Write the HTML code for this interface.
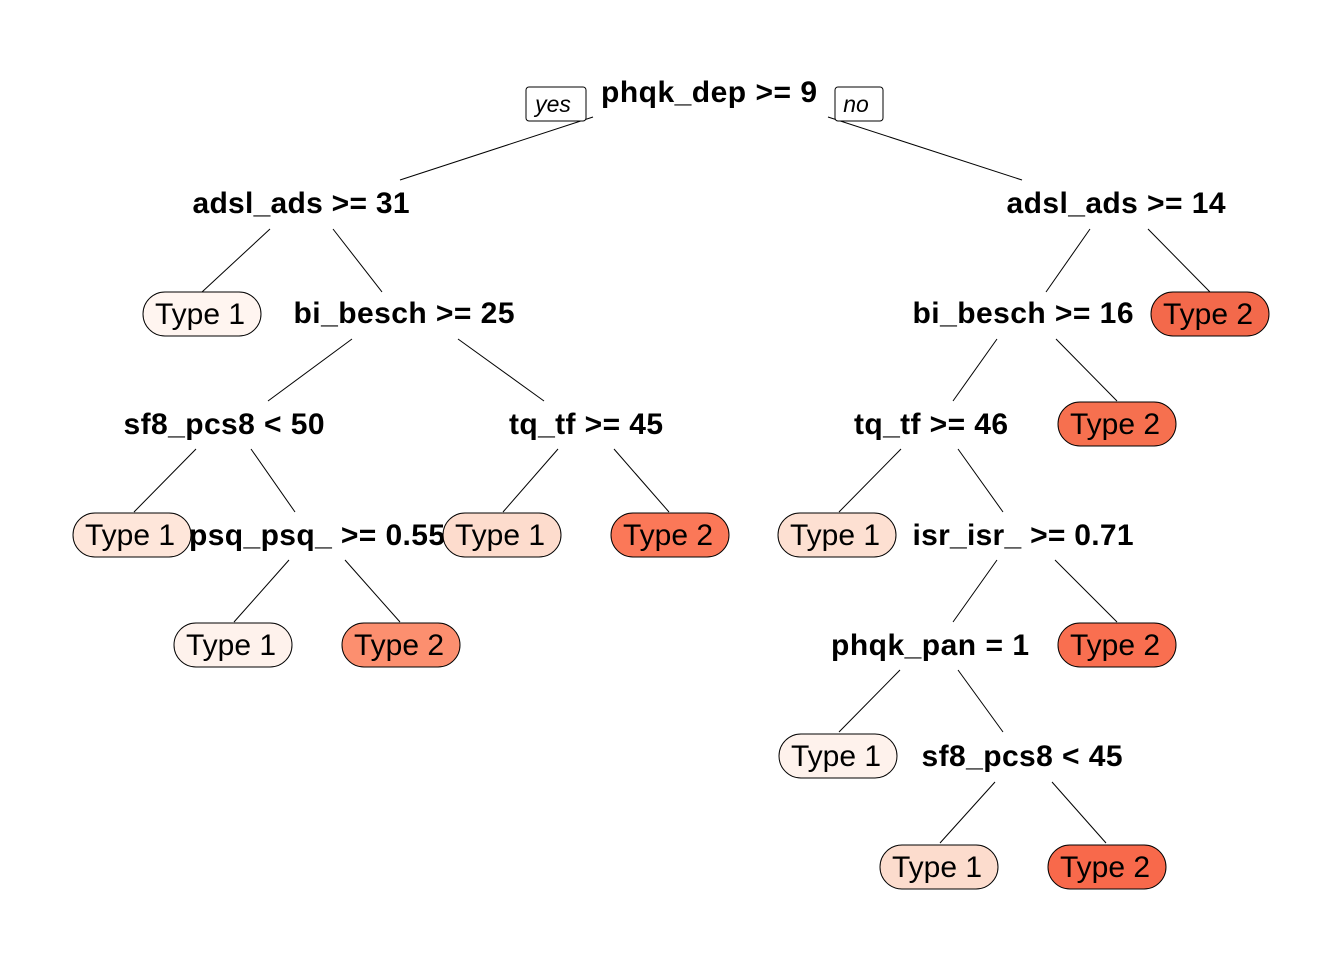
<!DOCTYPE html>
<html><head><style>body{margin:0;background:#fff}svg{display:block}</style></head><body>
<svg width="1344" height="960" xmlns="http://www.w3.org/2000/svg" font-family="Liberation Sans, Arial, sans-serif" font-size="30">
<g stroke="#000" stroke-width="1" fill="none">
<line x1="593" y1="117" x2="400" y2="180"/><line x1="828" y1="117" x2="1022" y2="180"/>
<line x1="270" y1="229" x2="202" y2="292"/><line x1="333" y1="229" x2="382" y2="292"/>
<line x1="352" y1="339" x2="268" y2="401"/><line x1="458" y1="339" x2="544" y2="401"/>
<line x1="196" y1="449" x2="134" y2="512"/><line x1="251" y1="449" x2="295" y2="512"/>
<line x1="558" y1="449" x2="503" y2="512"/><line x1="614" y1="449" x2="669" y2="512"/>
<line x1="289" y1="560" x2="234" y2="622"/><line x1="345" y1="560" x2="400" y2="622"/>
<line x1="1090" y1="229" x2="1046" y2="292"/><line x1="1148" y1="229" x2="1210" y2="292"/>
<line x1="997" y1="339" x2="953" y2="401"/><line x1="1056" y1="339" x2="1117" y2="401"/>
<line x1="901" y1="449" x2="839" y2="512"/><line x1="958" y1="449" x2="1003" y2="512"/>
<line x1="997" y1="560" x2="953" y2="622"/><line x1="1055" y1="560" x2="1117" y2="622"/>
<line x1="900" y1="670" x2="839" y2="732"/><line x1="958" y1="670" x2="1003" y2="732"/>
<line x1="995" y1="782" x2="940" y2="843"/><line x1="1052" y1="782" x2="1106" y2="843"/>
<rect x="526" y="87" width="60" height="34" rx="3" fill="#fff"/>
<rect x="835" y="87" width="48" height="34" rx="3" fill="#fff"/>
</g>
<g font-style="italic" font-size="23" text-anchor="middle">
<text x="553" y="112">yes</text><text x="856" y="112">no</text></g>
<g font-weight="bold" text-anchor="middle" lengthAdjust="spacingAndGlyphs">
<text x="709" y="102" textLength="216">phqk_dep &gt;= 9</text>
<text x="301" y="213" textLength="217">adsl_ads &gt;= 31</text>
<text x="404" y="323" textLength="221">bi_besch &gt;= 25</text>
<text x="224" y="434" textLength="201">sf8_pcs8 &lt; 50</text>
<text x="586" y="434" textLength="154">tq_tf &gt;= 45</text>
<text x="317" y="545" textLength="256">psq_psq_ &gt;= 0.55</text>
<text x="1116" y="213" textLength="219">adsl_ads &gt;= 14</text>
<text x="1023" y="323" textLength="221">bi_besch &gt;= 16</text>
<text x="931" y="434" textLength="154">tq_tf &gt;= 46</text>
<text x="1023" y="545" textLength="221">isr_isr_ &gt;= 0.71</text>
<text x="930" y="655" textLength="198">phqk_pan = 1</text>
<text x="1022" y="766" textLength="201">sf8_pcs8 &lt; 45</text>
</g>
<g stroke="#000" stroke-width="1">
<rect x="143" y="292" width="118" height="44" rx="22" fill="#fff5f0"/>
<rect x="73" y="513" width="118" height="44" rx="22" fill="#fee6da"/>
<rect x="443" y="513" width="118" height="44" rx="22" fill="#fddccd"/>
<rect x="611" y="513" width="118" height="44" rx="22" fill="#fb7858"/>
<rect x="174" y="623" width="118" height="44" rx="22" fill="#fef2ec"/>
<rect x="342" y="623" width="118" height="44" rx="22" fill="#fc8f6f"/>
<rect x="1151" y="292" width="118" height="44" rx="22" fill="#f3694b"/>
<rect x="1058" y="402" width="118" height="44" rx="22" fill="#f6704f"/>
<rect x="778" y="513" width="118" height="44" rx="22" fill="#fde0d2"/>
<rect x="1058" y="623" width="118" height="44" rx="22" fill="#f96f50"/>
<rect x="779" y="734" width="118" height="44" rx="22" fill="#fef2ec"/>
<rect x="880" y="845" width="118" height="44" rx="22" fill="#fcdccd"/>
<rect x="1048" y="845" width="118" height="44" rx="22" fill="#f8694b"/>
</g>
<g text-anchor="middle" lengthAdjust="spacingAndGlyphs">
<text x="200" y="324" textLength="90">Type 1</text>
<text x="130" y="545" textLength="90">Type 1</text>
<text x="500" y="545" textLength="90">Type 1</text>
<text x="668" y="545" textLength="90">Type 2</text>
<text x="231" y="655" textLength="90">Type 1</text>
<text x="399" y="655" textLength="90">Type 2</text>
<text x="1208" y="324" textLength="90">Type 2</text>
<text x="1115" y="434" textLength="90">Type 2</text>
<text x="835" y="545" textLength="90">Type 1</text>
<text x="1115" y="655" textLength="90">Type 2</text>
<text x="836" y="766" textLength="90">Type 1</text>
<text x="937" y="877" textLength="90">Type 1</text>
<text x="1105" y="877" textLength="90">Type 2</text>
</g>
</svg>
</body></html>
